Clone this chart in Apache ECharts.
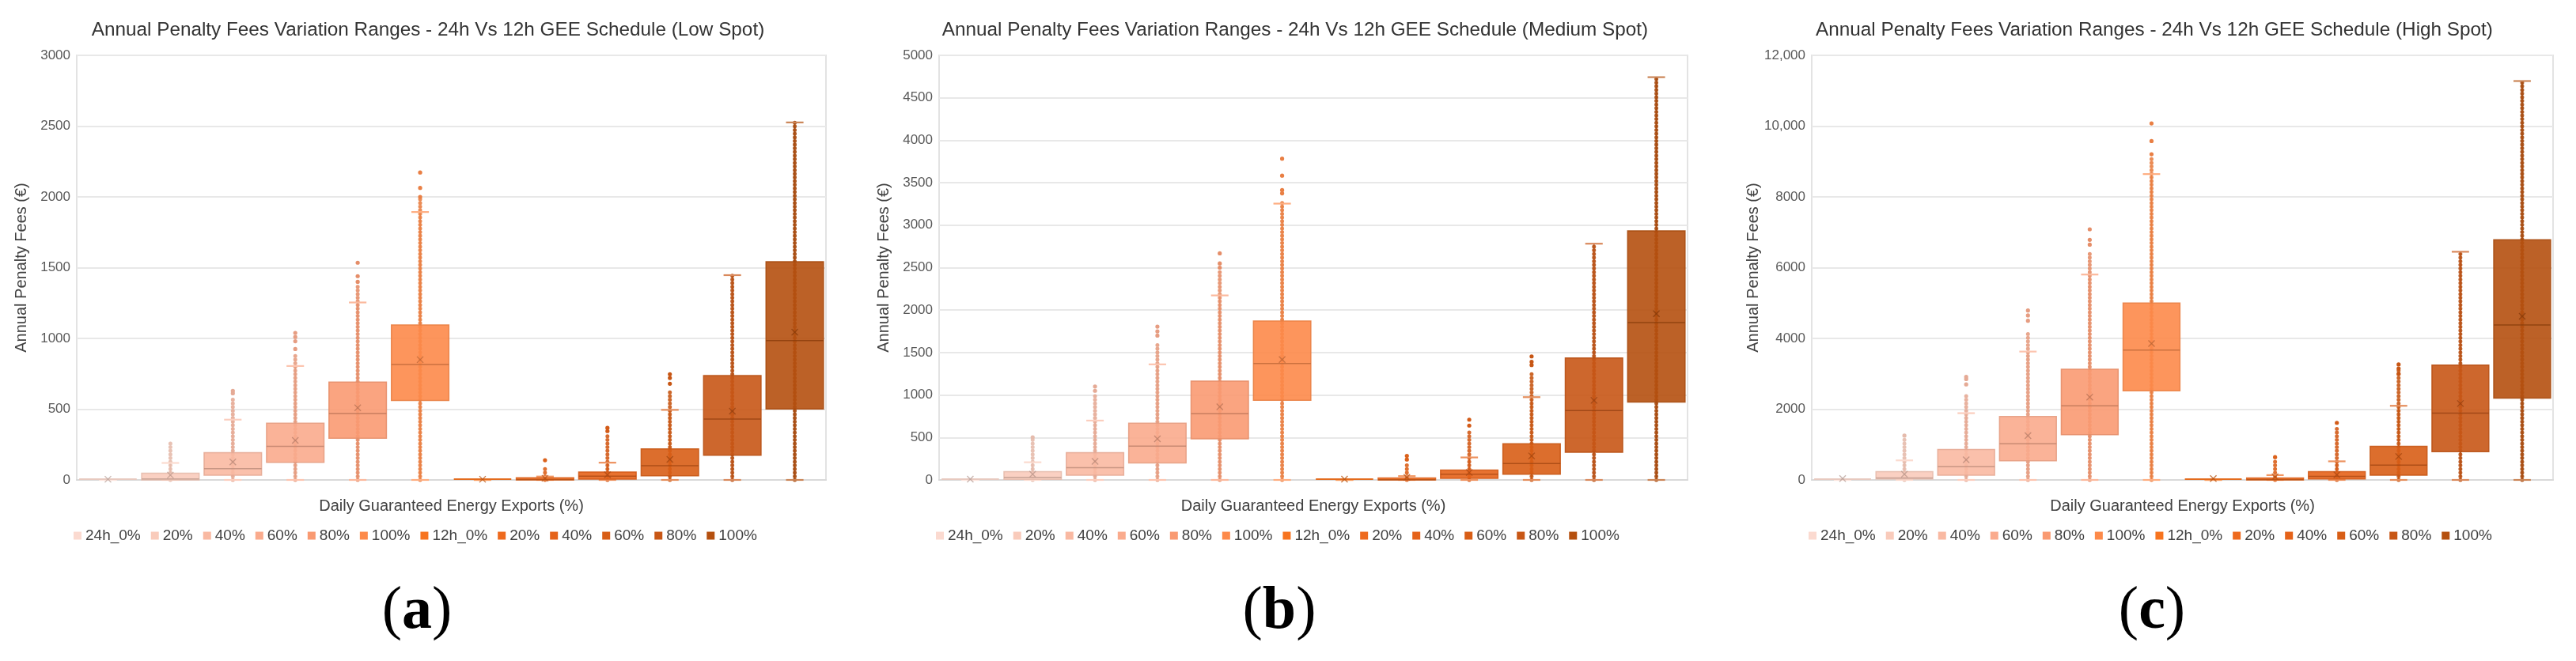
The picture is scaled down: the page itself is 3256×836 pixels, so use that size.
<!DOCTYPE html>
<html><head><meta charset="utf-8">
<script src="https://cdn.jsdelivr.net/npm/echarts@6/dist/echarts.min.js"></script>
<style>html,body{margin:0;padding:0;background:#fff}#c{width:3256px;height:836px}</style>
</head><body><div id="c"></div>
<script>
// ---------- categories & labels ----------
const categories = ['24h_0%','24h_20%','24h_40%','24h_60%','24h_80%','24h_100%','12h_0%','12h_20%','12h_40%','12h_60%','12h_80%','12h_100%'];
const legendLabels = ['24h_0%','20%','40%','60%','80%','100%','12h_0%','20%','40%','60%','80%','100%'];
const colors = ['#fbdad0','#f9cbbb','#f9b9a2','#faab8d','#f99a72','#fd8a4a','#f7741f','#ee6a1e','#e5631a','#d85e16','#c85716','#b5500f'];

// ---------- Panel (a): Low Spot ----------
const lowQ1      = [0, 0, 34, 125, 295, 562, 0, 0, 6, 30, 175, 501];
const lowMedian  = [0, 7, 79, 238, 469, 816, 0, 3, 27, 101, 430, 984];
const lowQ3      = [0, 48, 193, 401, 692, 1095, 0, 15, 56, 219, 738, 1542];
const lowWhisker = [0, 120, 426, 805, 1254, 1893, 0, 24, 122, 495, 1447, 2526];
const lowMean    = [5, 34, 127, 279, 510, 850, 5, 12, 36, 145, 486, 1044];
const lowPoints  = [0, 268, 590, 880, 1380, 1990, 0, 100, 320, 620, 1447, 2526];
const lowOutliers = [[], [], [612, 630], [925, 980, 1010, 1039], [1400, 1440, 1535], [2000, 2063, 2172], [], [139], [345, 368], [680, 720, 747], [], []];
const lowTicks = ['0','500','1000','1500','2000','2500','3000'];

// ---------- Panel (b): Medium Spot ----------
const medQ1      = [0, 8, 57, 200, 484, 937, 0, 0, 19, 68, 325, 918];
const medMedian  = [0, 30, 144, 397, 779, 1372, 0, 3, 68, 193, 816, 1852];
const medQ3      = [0, 98, 321, 669, 1164, 1871, 0, 23, 117, 427, 1436, 2933];
const medWhisker = [0, 208, 699, 1361, 2173, 3254, 0, 45, 265, 975, 2782, 4743];
const medMean    = [10, 68, 219, 484, 862, 1417, 10, 30, 87, 283, 937, 1958];
const medPoints  = [0, 490, 1000, 1600, 2450, 3300, 0, 200, 600, 1260, 2782, 4743];
const medOutliers = [[], [503], [1050, 1100], [1700, 1750, 1806], [2500, 2550, 2668], [3375, 3413, 3583, 3783], [], [240, 283], [640, 710], [1353, 1391, 1455], [], []];
const medTicks = ['0','500','1000','1500','2000','2500','3000','3500','4000','4500','5000'];

// ---------- Panel (c): High Spot ----------
const highQ1      = [0, 27, 136, 544, 1279, 2522, 0, 0, 27, 136, 798, 2313];
const highMedian  = [0, 54, 372, 1025, 2095, 3673, 0, 10, 100, 417, 1887, 4381];
const highQ3      = [0, 236, 862, 1796, 3129, 4998, 0, 54, 236, 952, 3247, 6785];
const highWhisker = [0, 553, 1887, 3628, 5805, 8644, 0, 136, 526, 2095, 6449, 11274];
const highMean    = [40, 163, 571, 1252, 2340, 3855, 40, 91, 145, 662, 2159, 4626];
const highPoints  = [0, 1150, 2450, 4200, 6400, 9150, 0, 560, 1450, 3100, 6449, 11274];
const highOutliers = [[], [1252], [2700, 2850, 2912], [4500, 4650, 4789], [6649, 6785, 7084], [9206, 9578, 10077], [], [644], [1615], [3000, 3150, 3265], [], []];
const highTicks = ['0','2000','4000','6000','8000','10,000','12,000'];

const panels = [
  {title:'Annual Penalty Fees Variation Ranges - 24h Vs 12h GEE Schedule (Low Spot)', tag:'a',
   q1:lowQ1, med:lowMedian, q3:lowQ3, wh:lowWhisker, mean:lowMean, pts:lowPoints, out:lowOutliers, ticks:lowTicks,
   max:3000, interval:500, grid:{left:97, top:70, width:947, height:537}, titleX:541},
  {title:'Annual Penalty Fees Variation Ranges - 24h Vs 12h GEE Schedule (Medium Spot)', tag:'b',
   q1:medQ1, med:medMedian, q3:medQ3, wh:medWhisker, mean:medMean, pts:medPoints, out:medOutliers, ticks:medTicks,
   max:5000, interval:500, grid:{left:1187, top:70, width:946, height:537}, titleX:1637},
  {title:'Annual Penalty Fees Variation Ranges - 24h Vs 12h GEE Schedule (High Spot)', tag:'c',
   q1:highQ1, med:highMedian, q3:highQ3, wh:highWhisker, mean:highMean, pts:highPoints, out:highOutliers, ticks:highTicks,
   max:12000, interval:2000, grid:{left:2290, top:70, width:937, height:537}, titleX:2723}
];

function shade(hex, f) {
  const n = parseInt(hex.slice(1), 16);
  let r = (n >> 16) & 255, g = (n >> 8) & 255, b = n & 255;
  const adj = c => f < 0 ? Math.round(c * (1 + f)) : Math.round(c + (255 - c) * f);
  r = adj(r); g = adj(g); b = adj(b);
  return 'rgb(' + r + ',' + g + ',' + b + ')';
}

function makeRender(outliers, color) {
  const border = shade(color, -0.08), dark = shade(color, -0.25), light = shade(color, 0.3);
  return function (params, api) {
    const cat = api.value(0);
    const q1 = api.value(1), med = api.value(2), q3 = api.value(3), wh = api.value(4), mean = api.value(5), pts = api.value(6);
    const band = api.size([1, 0])[0];
    const bw = band * 0.92, cap = band * 0.28;
    const pt = v => api.coord([cat, v]);
    const x = pt(0)[0], y0 = pt(0)[1];
    const ch = [];
    if (wh > 0) ch.push({type:'line', shape:{x1:x, y1:y0, x2:x, y2:pt(wh)[1]}, style:{stroke:border, lineWidth:1.5}});
    if (pts > 0) ch.push({type:'line', shape:{x1:x, y1:y0, x2:x, y2:pt(pts)[1]},
      style:{stroke:border, lineWidth:5, lineDash:[0.01, 4.6], lineCap:'round', fill:null, opacity:0.9}});
    outliers.forEach(v => { const p = pt(v); ch.push({type:'circle', shape:{cx:p[0], cy:p[1], r:2.6}, style:{fill:border}}); });
    [0, wh].forEach(v => { const yy = pt(v)[1];
      ch.push({type:'line', shape:{x1:x - cap / 2, y1:yy, x2:x + cap / 2, y2:yy}, style:{stroke:light, lineWidth:2.2}}); });
    const yt = pt(q3)[1], yb = pt(q1)[1];
    if (yb - yt >= 1) {
      ch.push({type:'rect', shape:{x:x - bw / 2, y:yt, width:bw, height:yb - yt}, style:{fill:color, opacity:0.9, stroke:border, lineWidth:1.5}});
      const ym = pt(med)[1];
      ch.push({type:'line', shape:{x1:x - bw / 2, y1:ym, x2:x + bw / 2, y2:ym}, style:{stroke:dark, lineWidth:1.5, opacity:0.8}});
    } else {
      ch.push({type:'line', shape:{x1:x - bw / 2, y1:yb - 1, x2:x + bw / 2, y2:yb - 1}, style:{stroke:border, lineWidth:2}});
    }
    const pm = pt(mean), s = 4;
    ch.push({type:'line', shape:{x1:pm[0] - s, y1:pm[1] - s, x2:pm[0] + s, y2:pm[1] + s}, style:{stroke:dark, lineWidth:1.3, opacity:0.8}});
    ch.push({type:'line', shape:{x1:pm[0] - s, y1:pm[1] + s, x2:pm[0] + s, y2:pm[1] - s}, style:{stroke:dark, lineWidth:1.3, opacity:0.8}});
    return {type:'group', children:ch};
  };
}

const FONT = '"Liberation Sans", Arial, sans-serif';
const option = {
  animation:false,
  backgroundColor:'#ffffff',
  textStyle:{fontFamily:FONT},
  title: panels.map(p => ({text:p.title, left:p.titleX, top:26, textAlign:'center', padding:0,
    textStyle:{fontSize:24.3, fontWeight:'normal', color:'#333333', fontFamily:FONT}})),
  legend: panels.map(p => ({data:categories, left:p.grid.left - 4, top:668, padding:0, icon:'rect',
    itemWidth:10, itemHeight:10, itemGap:13, selectedMode:false,
    formatter: name => legendLabels[categories.indexOf(name)],
    textStyle:{fontSize:19, color:'#404040', fontFamily:FONT}})),
  grid: panels.map(p => Object.assign({show:true, borderColor:'#e3e3e3', borderWidth:2, backgroundColor:'#ffffff'}, p.grid)),
  xAxis: panels.map((p, k) => ({type:'category', gridIndex:k, data:categories,
    axisLabel:{show:false}, axisTick:{show:false}, splitLine:{show:false},
    axisLine:{show:true, lineStyle:{color:'#d9d9d9', width:2}},
    name:'Daily Guaranteed Energy Exports (%)', nameLocation:'middle', nameGap:23,
    nameTextStyle:{fontSize:20, color:'#404040', fontFamily:FONT}})),
  yAxis: panels.map((p, k) => ({type:'value', gridIndex:k, min:0, max:p.max, interval:p.interval,
    axisLine:{show:false}, axisTick:{show:false},
    splitLine:{lineStyle:{color:'#e8e8e8', width:2}},
    axisLabel:{fontSize:17, color:'#595959', margin:8, fontFamily:FONT,
      formatter: v => p.ticks[Math.round(v / p.interval)]},
    name:'Annual Penalty Fees (€)', nameLocation:'middle', nameGap:60, nameRotate:90,
    nameTextStyle:{fontSize:20, color:'#404040', fontFamily:FONT}})),
  series: [],
  graphic: panels.map(p => ({type:'text', x:p.grid.left + 430, y:774,
    style:{text:'{p|(}{b|' + p.tag + '}{p|)}', align:'center', verticalAlign:'middle', fill:'#000',
      rich:{p:{fontFamily:'"Liberation Serif", serif', fontSize:76, fontWeight:'normal', fill:'#000'},
            b:{fontFamily:'"Liberation Serif", serif', fontSize:76, fontWeight:'bold', fill:'#000'}}}}))
};

panels.forEach((p, k) => {
  categories.forEach((c, i) => {
    option.series.push({
      type:'custom', name:c, xAxisIndex:k, yAxisIndex:k, silent:true, clip:false,
      itemStyle:{color:colors[i]},
      encode:{x:0, y:[1, 2, 3, 4, 5, 6]},
      data:[[i, p.q1[i], p.med[i], p.q3[i], p.wh[i], p.mean[i], p.pts[i]]],
      renderItem: makeRender(p.out[i], colors[i])
    });
  });
});

const chart = echarts.init(document.getElementById('c'), null, {renderer:'canvas'});
chart.setOption(option);
</script></body></html>
